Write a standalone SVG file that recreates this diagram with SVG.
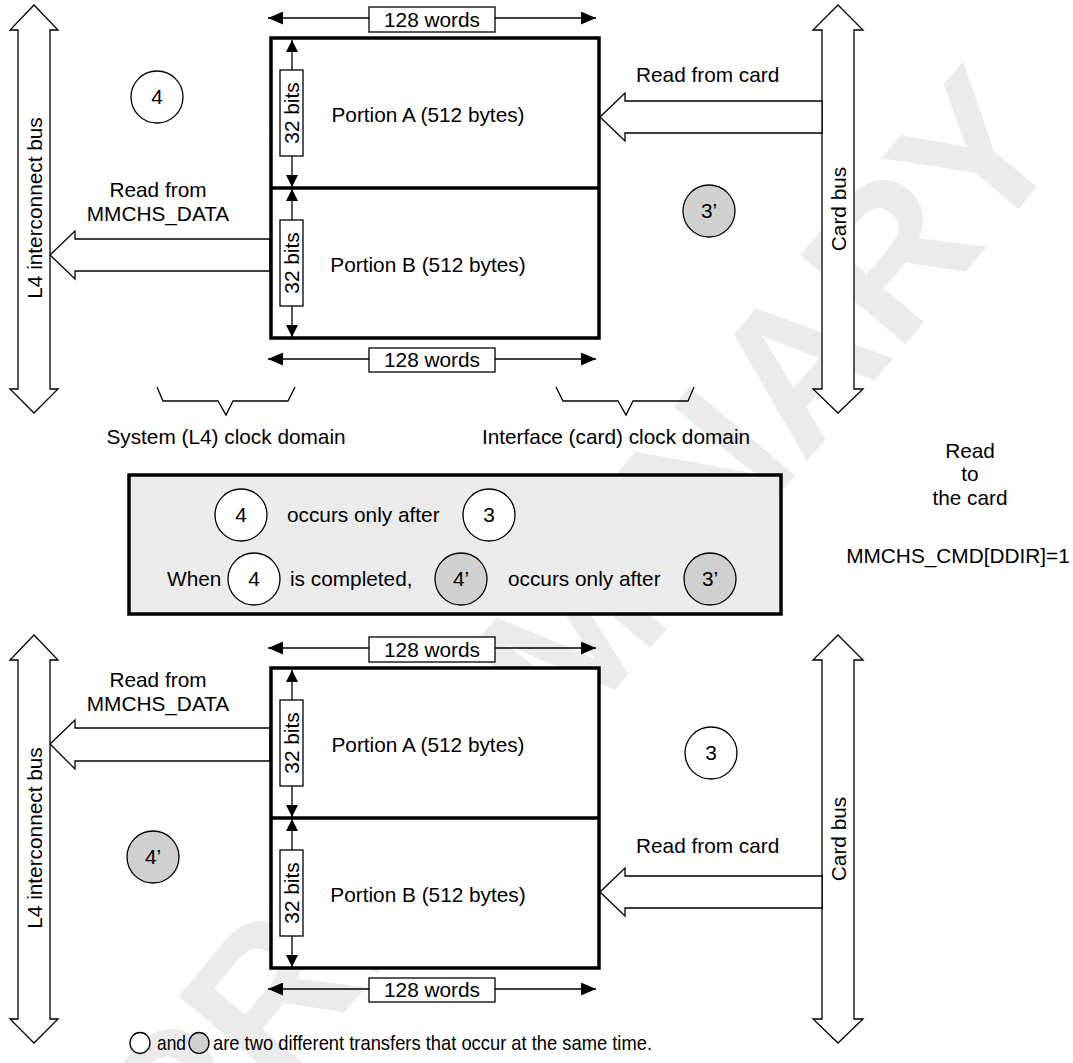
<svg xmlns="http://www.w3.org/2000/svg" width="1073" height="1063" viewBox="0 0 1073 1063">
<defs>
<style>
text{font-family:"Liberation Sans",Arial,sans-serif;font-size:20.8px;fill:#000}
.mid{text-anchor:middle}
.wm{font-size:200px;font-weight:bold;fill:#ebebeb;text-anchor:middle}
.bus,.flow{fill:#fff;stroke:#000;stroke-width:1.3;stroke-linejoin:miter}
.blk{fill:#fff;stroke:#000;stroke-width:3.5}
.div{stroke:#000;stroke-width:3.5}
.dim{stroke:#000;stroke-width:1.3;fill:none}
.lbl{fill:#fff;stroke:#000;stroke-width:1.3}
.cw{fill:#fff;stroke:#000;stroke-width:1.3}
.cg{fill:#d0d0d0;stroke:#000;stroke-width:1.3}
.brace{fill:none;stroke:#000;stroke-width:1.3}
.note{fill:#ebebeb;stroke:#000;stroke-width:3.5}
</style>
<marker id="ah" viewBox="0 0 15 13" refX="15" refY="6.5" markerWidth="15" markerHeight="13" markerUnits="userSpaceOnUse" orient="auto-start-reverse">
<path d="M0,0 L15,6.5 L0,13 Z" fill="#000"/>
</marker>
<marker id="av" viewBox="0 0 12 12" refX="12" refY="6" markerWidth="12" markerHeight="12" markerUnits="userSpaceOnUse" orient="auto-start-reverse">
<path d="M0,0 L12,6 L0,12 Z" fill="#000"/>
</marker>
</defs>
<rect width="1073" height="1063" fill="#fff"/>
<g id="watermark">
<text class="wm" transform="translate(630,672) rotate(-50)">PRELIMINARY</text>
</g>

<g id="connectors">
<polygon class="bus" points="34,5 58,30 50,30 50,389 58,389 34,413 10,389 18,389 18,30 10,30"/>
<polygon class="bus" points="838,5 863,30 854,30 854,389 863,389 838,413 813,389 822,389 822,30 813,30"/>
<polygon class="bus" points="34,635 58,660 50,660 50,1019 58,1019 34,1043 10,1019 18,1019 18,660 10,660"/>
<polygon class="bus" points="838,635 863,660 854,660 854,1019 863,1019 838,1043 813,1019 822,1019 822,660 813,660"/>
<polygon class="flow" points="50,255 75,231 75,239 270,239 270,271 75,271 75,279"/>
<polygon class="flow" points="600,117 625,93 625,101 822,101 822,133 625,133 625,141"/>
<polygon class="flow" points="50,744 75,720 75,728 270,728 270,761 75,761 75,769"/>
<polygon class="flow" points="600,892 625,868 625,876 822,876 822,908 625,908 625,916"/>
</g>

<g id="bus-labels">
<text class="mid" transform="translate(42,208) rotate(-90)">L4 interconnect bus</text>
<text class="mid" transform="translate(846,209) rotate(-90)">Card bus</text>
<text class="mid" transform="translate(42,838) rotate(-90)">L4 interconnect bus</text>
<text class="mid" transform="translate(846,839) rotate(-90)">Card bus</text>
</g>

<g id="flow-labels">
<text class="mid" x="158" y="197">Read from</text>
<text class="mid" x="158" y="221">MMCHS_DATA</text>
<text x="636" y="82">Read from card</text>
<text class="mid" x="158" y="687">Read from</text>
<text class="mid" x="158" y="711">MMCHS_DATA</text>
<text x="636" y="853">Read from card</text>
</g>

<g id="buffer-top">
<rect class="blk" x="271" y="38" width="328" height="300"/>
<line class="div" x1="271" y1="188" x2="599" y2="188"/>
<text class="mid" x="428" y="122">Portion A (512 bytes)</text>
<text class="mid" x="428" y="272">Portion B (512 bytes)</text>
<line class="dim" x1="268" y1="18" x2="596" y2="18" marker-start="url(#ah)" marker-end="url(#ah)"/>
<rect class="lbl" x="369" y="7" width="126" height="25"/>
<text class="mid" x="432" y="27">128 words</text>
<line class="dim" x1="268" y1="359" x2="596" y2="359" marker-start="url(#ah)" marker-end="url(#ah)"/>
<rect class="lbl" x="369" y="348" width="126" height="24"/>
<text class="mid" x="432" y="367">128 words</text>
<line class="dim" x1="292" y1="40" x2="292" y2="187" marker-start="url(#av)" marker-end="url(#av)"/>
<rect class="lbl" x="280" y="70" width="23" height="86"/>
<text class="mid" transform="translate(299,113) rotate(-90)">32 bits</text>
<line class="dim" x1="292" y1="189" x2="292" y2="337" marker-start="url(#av)" marker-end="url(#av)"/>
<rect class="lbl" x="280" y="220" width="23" height="86"/>
<text class="mid" transform="translate(299,263) rotate(-90)">32 bits</text>
</g>

<g id="buffer-bottom">
<rect class="blk" x="271" y="668" width="328" height="300"/>
<line class="div" x1="271" y1="818" x2="599" y2="818"/>
<text class="mid" x="428" y="752">Portion A (512 bytes)</text>
<text class="mid" x="428" y="902">Portion B (512 bytes)</text>
<line class="dim" x1="268" y1="648" x2="596" y2="648" marker-start="url(#ah)" marker-end="url(#ah)"/>
<rect class="lbl" x="369" y="637" width="126" height="25"/>
<text class="mid" x="432" y="657">128 words</text>
<line class="dim" x1="268" y1="989" x2="596" y2="989" marker-start="url(#ah)" marker-end="url(#ah)"/>
<rect class="lbl" x="369" y="978" width="126" height="24"/>
<text class="mid" x="432" y="997">128 words</text>
<line class="dim" x1="292" y1="670" x2="292" y2="817" marker-start="url(#av)" marker-end="url(#av)"/>
<rect class="lbl" x="280" y="700" width="23" height="86"/>
<text class="mid" transform="translate(299,743) rotate(-90)">32 bits</text>
<line class="dim" x1="292" y1="819" x2="292" y2="967" marker-start="url(#av)" marker-end="url(#av)"/>
<rect class="lbl" x="280" y="850" width="23" height="86"/>
<text class="mid" transform="translate(299,893) rotate(-90)">32 bits</text>
</g>

<g id="step-4-top"><circle class="cw" cx="157" cy="97" r="26"/><text class="mid" x="157" y="104">4</text></g>
<g id="step-3p-top"><circle class="cg" cx="709" cy="211" r="26"/><text class="mid" x="709" y="218">3’</text></g>
<g id="step-4p-bottom"><circle class="cg" cx="153" cy="857" r="26"/><text class="mid" x="153" y="864">4’</text></g>
<g id="step-3-bottom"><circle class="cw" cx="711" cy="753" r="26"/><text class="mid" x="711" y="760">3</text></g>

<g id="domains">
<polyline class="brace" points="157,387 163,401 218,401 226,415 233,401 288,401 295,387"/>
<polyline class="brace" points="556,387 563,401 618,401 626,415 633,401 688,401 694,387"/>
<text class="mid" x="226" y="444">System (L4) clock domain</text>
<text class="mid" x="616" y="444">Interface (card) clock domain</text>
</g>

<g id="side-note">
<text class="mid" x="970" y="458">Read</text>
<text class="mid" x="970" y="481">to</text>
<text class="mid" x="970" y="505">the card</text>
<text class="mid" x="958" y="563">MMCHS_CMD[DDIR]=1</text>
</g>

<g id="rule-box">
<rect class="note" x="129" y="475" width="652" height="139"/>
<circle class="cw" cx="241" cy="515" r="26"/><text class="mid" x="241" y="522">4</text>
<text x="287" y="522">occurs only after</text>
<circle class="cw" cx="489" cy="515" r="26"/><text class="mid" x="489" y="522">3</text>
<text x="167" y="586">When</text>
<circle class="cw" cx="254" cy="579" r="26"/><text class="mid" x="254" y="586">4</text>
<text x="290" y="586">is completed,</text>
<circle class="cg" cx="461" cy="579" r="26"/><text class="mid" x="461" y="586">4’</text>
<text x="508" y="586">occurs only after</text>
<circle class="cg" cx="710" cy="579" r="26"/><text class="mid" x="710" y="586">3’</text>
</g>

<g id="legend">
<ellipse class="cw" cx="140" cy="1043" rx="10" ry="10.5"/>
<text x="157" y="1050" textLength="29" lengthAdjust="spacingAndGlyphs">and</text>
<ellipse class="cg" cx="199" cy="1043" rx="10" ry="10.5"/>
<text x="213" y="1050" textLength="439" lengthAdjust="spacingAndGlyphs">are two different transfers that occur at the same time.</text>
</g>
</svg>
